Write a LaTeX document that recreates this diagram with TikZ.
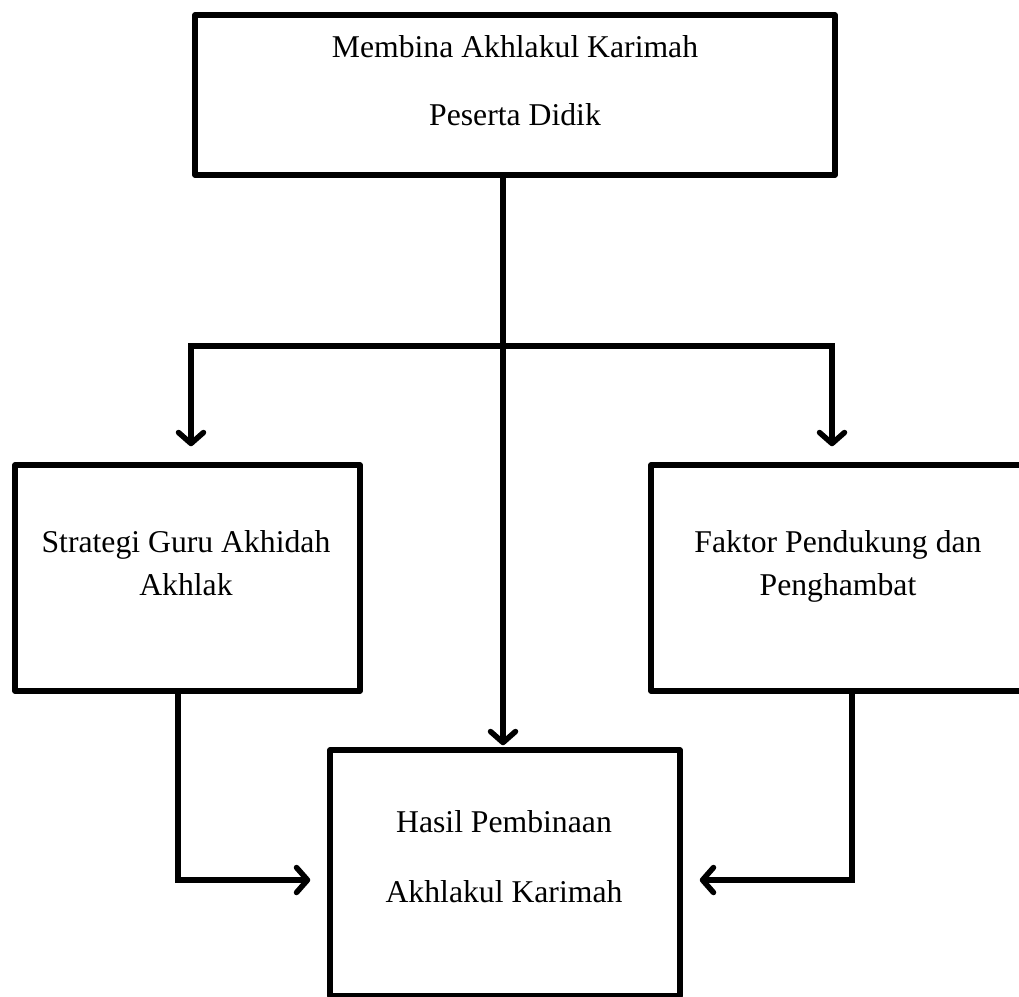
\documentclass[tikz,border=0pt]{standalone}
\usepackage{fontspec}
\setmainfont{Liberation Serif}
\usetikzlibrary{arrows.meta,calc}
\begin{document}
\begin{tikzpicture}[x=1pt,y=-1pt,
  box/.style={draw=black,line width=5.5pt,rectangle,inner sep=0pt,line join=round},
  conn/.style={draw=black,line width=5.5pt,line join=miter},
  barb/.tip={Straight Barb[length=11pt,width=25pt,round]},
  tip/.style={-barb},
  lbl/.style={align=center,anchor=base,inner sep=0pt}]
\useasboundingbox (0,0) rectangle (1019,996);
\clip (0,0) rectangle (1019,996);
% boxes
\node[box,minimum width=640pt,minimum height=160pt] (T) at (515,95) {};
\node[box,minimum width=345pt,minimum height=226pt] (L) at (187.5,578) {};
\node[box,minimum width=380pt,minimum height=226pt] (R) at (841,578) {};
\node[box,minimum width=350pt,minimum height=246pt] (H) at (505,873) {};
% texts
\node[lbl,font=\fontsize{31.7}{68}\selectfont] (tT) at (515,125) {Membina Akhlakul Karimah\\Peserta Didik};
\node[lbl,font=\fontsize{31.7}{43}\selectfont] (tL) at (186,595) {Strategi Guru Akhidah\\Akhlak};
\node[lbl,font=\fontsize{31.7}{43}\selectfont] (tR) at (838,595) {Faktor Pendukung dan\\Penghambat};
\node[lbl,font=\fontsize{31.7}{70}\selectfont] (tH) at (504,902) {Hasil Pembinaan\\Akhlakul Karimah};
% connectors
\coordinate (vx) at (503,0);
\coordinate (hl) at (191,346);
\coordinate (hr) at (832,346);
\coordinate (ll) at (178,880);
\coordinate (rr) at (852,880);
\draw[conn,tip] (T.south -| vx) -- ($(H.north -| vx)+(0,-2)$);
\draw[conn,barb-barb]
  ($(L.north -| hl)+(0,-16)$) -- (hl) -- (hr) -- ($(R.north -| hr)+(0,-16)$);
\draw[conn,tip] (L.south -| ll) -- (ll) -- ($(H.west |- ll)+(-17,0)$);
\draw[conn,tip] (R.south -| rr) -- (rr) -- ($(H.east |- rr)+(17,0)$);
\end{tikzpicture}
\end{document}
